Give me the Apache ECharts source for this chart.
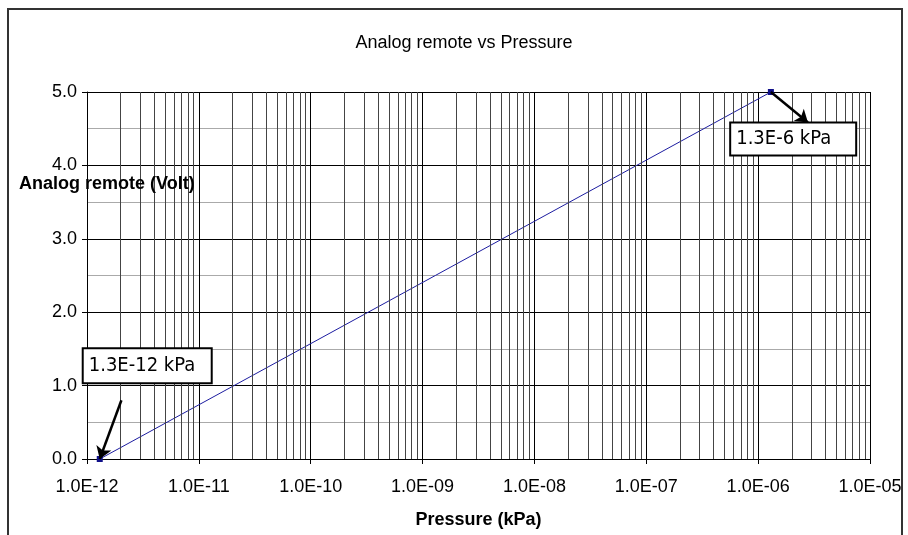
<!DOCTYPE html>
<html>
<head>
<meta charset="utf-8">
<script src="https://cdn.jsdelivr.net/npm/echarts@6/dist/echarts.min.js"></script>
<style>
  html, body { margin: 0; padding: 0; background: #fff; }
  #main { width: 908px; height: 535px; }
</style>
</head>
<body>
<div id="main"></div>
<script>
// data
const pressure = [1.3e-12, 1.3e-6]   // kPa
const voltage = [0, 5]               // Volt
const pointLabels = ['1.3E-12 kPa', '1.3E-6 kPa']
const decades = [-12, -11, -10, -9, -8, -7, -6]
const minorSteps = [2, 3, 4, 5, 6, 7, 8, 9]
const yRange = [0, 5]

const sans = 'Liberation Sans, Arial, sans-serif'
const narrow = 'Liberation Sans Narrow, Arial Narrow, DejaVu Sans Condensed, sans-serif'

const myChart = echarts.init(document.getElementById('main'))

// minor log gridlines at 2..9 of each decade
const minorLines = []
decades.forEach(function (d) {
  minorSteps.forEach(function (m) {
    const v = m * Math.pow(10, d)
    minorLines.push([{ coord: [v, yRange[0]] }, { coord: [v, yRange[1]] }])
  })
})

function expLabel (v) {
  const e = Math.round(Math.log10(v))
  const s = String(Math.abs(e)).padStart(2, '0')
  return '1.0E' + (e < 0 ? '-' : '+') + s
}

const seriesData = pressure.map(function (p, i) { return [p, voltage[i]] })

const boxLabel = {
  show: true,
  position: 'inside',
  fontFamily: narrow,
  fontSize: 20,
  color: '#000',
  align: 'left',
  backgroundColor: '#fff',
  borderColor: '#000',
  borderWidth: 2,
  padding: [6, 5, 3, 5]
}

const option = {
  animation: false,
  grid: { left: 87, right: 38, top: 92, bottom: 76 },
  xAxis: {
    type: 'log',
    logBase: 10,
    min: 1e-12,
    max: 1e-5,
    splitNumber: 7,
    name: 'Pressure (kPa)',
    nameLocation: 'middle',
    nameGap: 52,
    nameTextStyle: { fontFamily: sans, fontSize: 18, fontWeight: 'bold', color: '#000' },
    axisLine: { lineStyle: { color: '#000', width: 1 } },
    axisTick: { show: true, length: 5, lineStyle: { color: '#000' } },
    axisLabel: { formatter: expLabel, fontFamily: sans, fontSize: 18, color: '#000', margin: 19 },
    splitLine: { show: true, lineStyle: { color: '#000', width: 1 } }
  },
  yAxis: {
    type: 'value',
    min: yRange[0],
    max: yRange[1],
    interval: 1,
    axisLine: { show: true, lineStyle: { color: '#000', width: 1 } },
    axisTick: { show: true, length: 5, lineStyle: { color: '#000' } },
    axisLabel: {
      formatter: function (v) { return v.toFixed(1) },
      fontFamily: sans, fontSize: 18, color: '#000', margin: 10
    },
    splitLine: { show: true, lineStyle: { color: '#000', width: 1 } },
    minorTick: { show: false, splitNumber: 2 },
    minorSplitLine: { show: true, lineStyle: { color: '#aaa', width: 1 } }
  },
  graphic: [
    {
      type: 'rect',
      shape: { x: 8, y: 9, width: 894, height: 560 },
      style: { fill: 'none', stroke: '#333', lineWidth: 2 },
      silent: true
    },
    {
      type: 'text',
      x: 464, y: 43,
      style: { text: 'Analog remote vs Pressure', font: '18px ' + sans, fill: '#000', align: 'center', verticalAlign: 'middle' }
    },
    {
      type: 'text',
      x: 19, y: 184, z: 100,
      style: { text: 'Analog remote (Volt)', font: 'bold 18px ' + sans, fill: '#000', align: 'left', verticalAlign: 'middle' }
    }
  ],
  series: [
    {
      name: 'minor grid',
      type: 'line',
      data: seriesData,
      z: 1,
      silent: true,
      symbol: 'none',
      lineStyle: { width: 0, opacity: 0 },
      markLine: {
        silent: true,
        symbol: ['none', 'none'],
        label: { show: false },
        lineStyle: { color: '#444', width: 1, type: 'solid' },
        data: minorLines
      }
    },
    {
      name: 'Analog remote',
      type: 'line',
      z: 3,
      data: seriesData,
      lineStyle: { color: '#1c1ca0', width: 1 },
      itemStyle: { color: '#10108a' },
      symbol: 'rect',
      symbolSize: 6,
      markLine: {
        silent: true,
        symbol: ['none', 'arrow'],
        symbolSize: 12,
        label: { show: false },
        lineStyle: { color: '#000', width: 2.5, type: 'solid' },
        data: [
          [{ coord: [2.03e-12, 0.8] }, { coord: [pressure[0], voltage[0]] }],
          [{ coord: [pressure[1], voltage[1]] }, { coord: [2.79e-6, 4.585] }]
        ]
      },
      markPoint: {
        silent: true,
        symbol: 'circle',
        symbolSize: 0,
        label: boxLabel,
        data: [
          { coord: [3.49e-12, 1.27], value: 0, label: { formatter: pointLabels[0], width: 117, height: 24, offset: [-64, 0] } },
          { coord: [2.1e-6, 4.36], value: 1, label: { formatter: pointLabels[1], width: 114, height: 22, offset: [-63, 0] } }
        ]
      }
    }
  ]
}

myChart.setOption(option)
</script>
</body>
</html>
